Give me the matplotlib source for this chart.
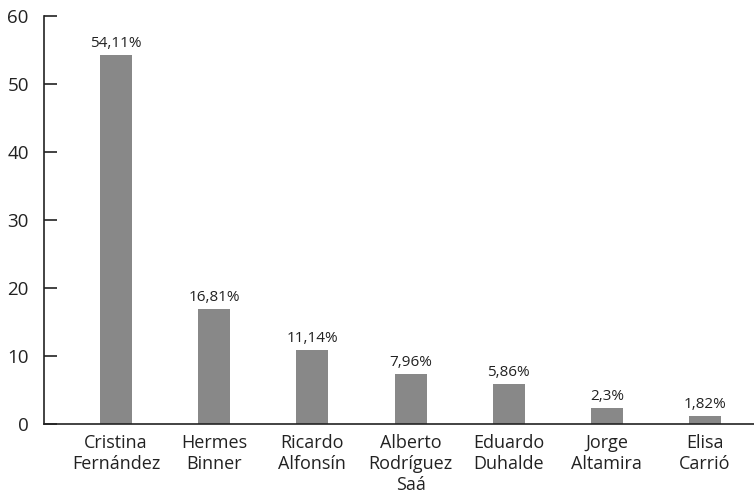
import matplotlib
matplotlib.use('Agg')
import matplotlib.pyplot as plt

candidatos = ['Cristina\nFernández', 'Hermes\nBinner', 'Ricardo\nAlfonsín',
              'Alberto\nRodríguez\nSaá', 'Eduardo\nDuhalde', 'Jorge\nAltamira',
              'Elisa\nCarrió']
alturas = [54.3, 16.9, 10.9, 7.35, 5.9, 2.35, 1.2]
etiquetas = ['54,11%', '16,81%', '11,14%', '7,96%', '5,86%', '2,3%', '1,82%']

plt.rcParams['font.family'] = ['Open Sans', 'DejaVu Sans']

fig = plt.figure(figsize=(7.54, 4.96), dpi=100)
ax = fig.add_axes([0.0584, 0.1452, 0.9416, 0.8225])

x = list(range(len(candidatos)))
bars = ax.bar(x, alturas, width=0.327, color='#888888')

for b, txt in zip(bars, etiquetas):
    ax.annotate(txt, (b.get_x() + b.get_width() / 2, b.get_height()),
                xytext=(0, 3), textcoords='offset points',
                ha='center', va='bottom', fontsize=11, color='#222222')

ax.set_xlim(-0.735, 6.5)
ax.set_ylim(0, 60)
ax.set_yticks(range(0, 61, 10))
ax.set_xticks(x)
ax.set_xticklabels(candidatos, fontsize=13, linespacing=1.22, color='#222222')

ax.tick_params(axis='y', direction='in', length=9.5, width=1.2, labelsize=13.5,
               pad=11, colors='#222222')
ax.tick_params(axis='x', length=0, pad=7)

for s in ['top', 'right']:
    ax.spines[s].set_visible(False)
for s in ['left', 'bottom']:
    ax.spines[s].set_color('#222222')
    ax.spines[s].set_linewidth(1.2)

fig.savefig('out.png', dpi=100)
